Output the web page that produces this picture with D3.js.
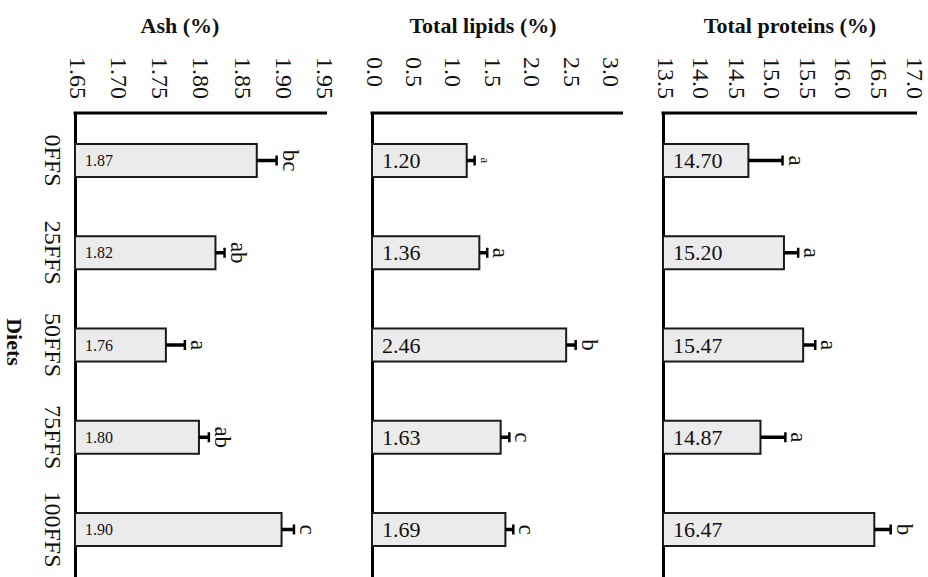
<!DOCTYPE html>
<html lang="en">
<head>
	<meta charset="utf-8">
	<title>Diets composition</title>
	<script src="https://d3js.org/d3.v7.min.js" charset="utf-8"></script>
	<style>
body {
  margin: 0;
  background: #fff;
}
svg text {
  font-family: "Liberation Serif", "Times New Roman", serif;
  fill: #111;
}
.title {
  font-weight: bold;
  font-size: 22px;
}
	</style>
</head>
<body>
<svg width="928" height="577"></svg>
<script>
// categories (top to bottom)
var diets = ["0FFS", "25FFS", "50FFS", "75FFS", "100FFS"];

// Ash (%)
var ashMean = [1.87, 1.82, 1.76, 1.80, 1.90];
var ashErr = [0.024, 0.011, 0.023, 0.012, 0.015];
var ashLetters = ["bc", "ab", "a", "ab", "c"];
var ashTicks = [1.65, 1.70, 1.75, 1.80, 1.85, 1.90, 1.95];

// Total lipids (%)
var lipidMean = [1.20, 1.36, 2.46, 1.63, 1.69];
var lipidErr = [0.10, 0.10, 0.12, 0.11, 0.10];
var lipidLetters = ["a", "a", "b", "c", "c"];
var lipidTicks = [0.0, 0.5, 1.0, 1.5, 2.0, 2.5, 3.0];

// Total proteins (%)
var proteinMean = [14.70, 15.20, 15.47, 14.87, 16.47];
var proteinErr = [0.48, 0.20, 0.17, 0.35, 0.23];
var proteinLetters = ["a", "a", "a", "a", "b"];
var proteinTicks = [13.5, 14.0, 14.5, 15.0, 15.5, 16.0, 16.5, 17.0];

var svg = d3.select("svg");
var top0 = 113, bottom0 = 577;

var y = d3.scaleBand()
    .domain(diets)
    .range([top0, bottom0])
    .paddingInner(0.642)
    .paddingOuter(0.336);

// panel layout
var panels = [
  { title: "Ash (%)", titleX: 180, mean: ashMean, err: ashErr, letters: ashLetters,
    ticks: ashTicks, fmt: ".2f", domain: [1.65, 1.955], x0: 75, x1: 327, valueSize: 16 },
  { title: "Total lipids (%)", titleX: 483, mean: lipidMean, err: lipidErr, letters: lipidLetters,
    ticks: lipidTicks, fmt: ".1f", domain: [0, 3.18], x0: 372, x1: 623, valueSize: 22, smallLetter: 0 },
  { title: "Total proteins (%)", titleX: 790, mean: proteinMean, err: proteinErr, letters: proteinLetters,
    ticks: proteinTicks, fmt: ".1f", domain: [13.5, 17.07], x0: 663, x1: 917, valueSize: 22 }
];

panels.forEach(function(p, pi) {
  var x = d3.scaleLinear().domain(p.domain).range([p.x0, p.x1]);
  var g = svg.append("g");

  g.append("text")
      .attr("class", "title")
      .attr("x", p.titleX)
      .attr("y", 33)
      .attr("text-anchor", "middle")
      .text(p.title);

  // value axis on top, labels turned
  var ax = g.append("g")
      .attr("transform", "translate(0," + top0 + ")")
      .call(d3.axisTop(x).tickValues(p.ticks).tickFormat(d3.format(p.fmt))
        .tickSize(0).tickSizeOuter(0));
  ax.select(".domain").attr("stroke", "#000").attr("stroke-width", 3)
      .attr("d", "M" + (p.x0 - 1.5) + ",0H" + p.x1);
  ax.selectAll("text")
      .attr("transform", "rotate(90)")
      .attr("x", -56)
      .attr("y", 0)
      .attr("dy", "0.25em")
      .attr("text-anchor", "start")
      .style("font-size", "24px")
      .style("font-family", "'Liberation Serif', serif");

  // category axis on the left
  var ay = g.append("g")
      .attr("transform", "translate(" + p.x0 + ",0)")
      .call(d3.axisLeft(y).tickSize(0).tickSizeOuter(0));
  ay.select(".domain").attr("stroke", "#000").attr("stroke-width", 3);
  if (pi === 0) {
    ay.selectAll("text")
        .attr("transform", "rotate(90)")
        .attr("x", 0)
        .attr("y", 22)
        .attr("dy", "0.35em")
        .attr("text-anchor", "middle")
        .style("font-size", "24px")
        .style("font-family", "'Liberation Serif', serif");
  } else {
    ay.selectAll("text").remove();
  }

  var rows = diets.map(function(d, i) {
    return { diet: d, v: p.mean[i], e: p.err[i], l: p.letters[i], i: i };
  });

  var bar = g.selectAll(".bar")
    .data(rows)
    .enter().append("g")
      .attr("class", "bar");

  bar.append("rect")
      .attr("x", x(p.domain[0]))
      .attr("y", function(d) { return y(d.diet); })
      .attr("width", function(d) { return x(d.v) - x(p.domain[0]); })
      .attr("height", y.bandwidth())
      .attr("fill", "#ebebeb")
      .attr("stroke", "#1a1a1a")
      .attr("stroke-width", 2);

  bar.append("line")
      .attr("x1", function(d) { return x(d.v); })
      .attr("x2", function(d) { return x(d.v + d.e); })
      .attr("y1", function(d) { return y(d.diet) + y.bandwidth() / 2; })
      .attr("y2", function(d) { return y(d.diet) + y.bandwidth() / 2; })
      .attr("stroke", "#000")
      .attr("stroke-width", 3.5);

  bar.append("line")
      .attr("x1", function(d) { return x(d.v + d.e); })
      .attr("x2", function(d) { return x(d.v + d.e); })
      .attr("y1", function(d) { return y(d.diet) + y.bandwidth() / 2 - 5; })
      .attr("y2", function(d) { return y(d.diet) + y.bandwidth() / 2 + 5; })
      .attr("stroke", "#000")
      .attr("stroke-width", 2.5);

  bar.append("text")
      .attr("x", x(p.domain[0]) + 10)
      .attr("y", function(d) { return y(d.diet) + y.bandwidth() / 2; })
      .attr("dy", "0.35em")
      .style("font-size", p.valueSize + "px")
      .text(function(d) { return d3.format(".2f")(d.v); });

  bar.append("text")
      .attr("transform", function(d) {
        return "translate(" + (x(d.v + d.e) + 6) + "," + (y(d.diet) + y.bandwidth() / 2) + ") rotate(90)";
      })
      .attr("text-anchor", "middle")
      .style("font-size", function(d) { return d.i === p.smallLetter ? "13px" : "23px"; })
      .text(function(d) { return d.l; });
});

svg.append("text")
    .attr("class", "title")
    .attr("transform", "translate(15," + ((top0 + bottom0) / 2 - 3) + ") rotate(90)")
    .attr("dy", "0.35em")
    .attr("text-anchor", "middle")
    .text("Diets");
</script>
</body>
</html>
